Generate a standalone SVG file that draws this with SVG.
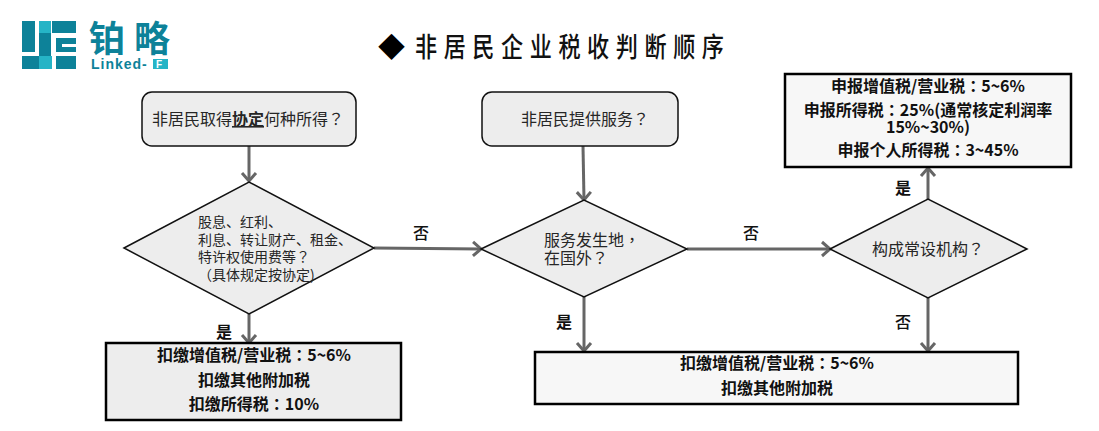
<svg xmlns="http://www.w3.org/2000/svg" width="1099" height="431" viewBox="0 0 1099 431">
<defs>
<marker id="a" markerUnits="userSpaceOnUse" markerWidth="16" markerHeight="18" refX="13" refY="9" orient="auto"><path d="M5 2L13 9L5 16" fill="none" stroke="#666" stroke-width="3"/></marker>
</defs>
<style>
text{font-family:"Noto Sans CJK SC","Liberation Sans",sans-serif;fill:#262626}
.p{font-family:"Noto Sans CJK TC","Liberation Sans",sans-serif}
.t{font-size:16px;text-anchor:middle}
.l{font-size:16px}
.s{font-size:14px}
.b{font-size:16px;font-weight:700;text-anchor:middle;fill:#111}
.n{font-size:16px;font-weight:500;text-anchor:middle;fill:#111}
.f{fill:#ededed;stroke:#111;stroke-width:1.500}
.r{stroke:#000;stroke-width:2.500}
.c{fill:none;stroke:#666;stroke-width:3;marker-end:url(#a)}
.logo{fill:#0d8299}
.lt{fill:#25b4c6}
.lg{fill:#0d8299;font-size:36px;font-weight:700}
</style>
<rect width="1099" height="431" fill="#fff"/>
<g id="logo">
<rect class="logo" x="22" y="21" width="13" height="31"/><rect class="logo" x="22" y="56" width="17" height="13"/><rect class="logo" x="39" y="33" width="12" height="23"/><rect class="lt" x="39" y="21" width="12" height="12"/><rect class="lt" x="39" y="56" width="13" height="13"/><rect class="logo" x="52" y="21" width="24" height="12"/><rect class="logo" x="56" y="38" width="20" height="6"/><rect class="logo" x="56" y="38" width="6" height="14"/><rect class="logo" x="56" y="47" width="20" height="5"/><rect class="logo" x="56" y="56" width="20" height="13"/>
<text x="89" y="52" class="lg">铂</text>
<text x="134" y="52" class="lg">略</text>
<text x="91" y="69" font-size="14" letter-spacing="1" style="fill:#0d8299;font-weight:700;font-family:'Liberation Sans',sans-serif">Linked-</text>
<rect class="lt" x="153" y="59" width="15" height="10"/>
<text x="156" y="68" font-size="10" style="fill:#fff;font-weight:700;font-family:'Liberation Sans',sans-serif">F</text>
</g>
<g id="title"><text x="378" y="57" font-size="27" style="fill:#000">◆</text><text transform="translate(415 57) scale(.82 1)" font-size="27" font-weight="500" letter-spacing="8" style="fill:#111">非居民企业税收判断顺序</text></g>
<g id="connectors">
<path class="c" d="M249 146V181"/>
<path class="c" d="M374 248L481 249"/>
<path class="c" d="M249 314V343"/>
<path class="c" d="M583 146L584 200"/>
<path class="c" d="M687 249H830"/>
<path class="c" d="M584 297V351"/>
<path class="c" d="M928 199V168"/>
<path class="c" d="M928 298V351"/>
</g>
<g id="n1"><rect class="f" x="142" y="92" width="214" height="54" rx="10"/><text class="t" x="248" y="125">非居民取得<tspan font-weight="700" text-decoration="underline">协定</tspan>何种所得<tspan class="p">？</tspan></text></g>
<g id="n2"><path class="f" d="M124 248L249 182L374 248L249 314Z"/><text class="s" x="198" y="227">股息、红利、</text><text class="s" x="198" y="245">利息、转让财产、租金、</text><text class="s" x="198" y="262">特许权使用费等<tspan class="p">？</tspan></text><text class="s" x="198" y="280">（具体规定按协定)</text></g>
<g id="n3"><rect x="106" y="343" width="295" height="77" class="f r"/><text class="b" x="254" y="361">扣缴增值税/营业税<tspan class="p">：</tspan>5~6%</text><text class="b" x="254" y="386">扣缴其他附加税</text><text class="b" x="254" y="410">扣缴所得税<tspan class="p">：</tspan>10%</text></g>
<g id="n4"><rect class="f" x="482" y="92" width="196" height="54" rx="10"/><text class="t" x="585" y="125">非居民提供服务<tspan class="p">？</tspan></text></g>
<g id="n5"><path class="f" d="M481 249L584 200L687 249L584 297Z"/><text class="l" x="544" y="246">服务发生地<tspan class="p">，</tspan></text><text class="l" x="544" y="264">在国外<tspan class="p">？</tspan></text></g>
<g id="n6"><path class="f" d="M830 249L928 199L1027 249L928 298Z"/><text class="t" x="928" y="255">构成常设机构<tspan class="p">？</tspan></text></g>
<g id="n7"><rect x="785" y="74" width="286" height="93" class="r" fill="#f7f7f7"/><text class="b" x="928" y="92">申报增值税/营业税<tspan class="p">：</tspan>5~6%</text><text class="b" x="928" y="116">申报所得税<tspan class="p">：</tspan>25%(通常核定利润率</text><text class="b" x="928" y="133">15%~30%)</text><text class="b" x="928" y="156">申报个人所得税<tspan class="p">：</tspan>3~45%</text></g>
<g id="n8"><rect x="535" y="352" width="483" height="52" class="r" fill="#f7f7f7"/><text class="b" x="777" y="369">扣缴增值税/营业税<tspan class="p">：</tspan>5~6%</text><text class="b" x="777" y="394">扣缴其他附加税</text></g>
<g id="labels"><text class="n" x="421" y="239">否</text><text class="b" x="224" y="338">是</text><text class="n" x="751" y="239">否</text><text class="b" x="564" y="328">是</text><text class="b" x="903" y="194">是</text><text class="n" x="903" y="328">否</text></g>
</svg>
